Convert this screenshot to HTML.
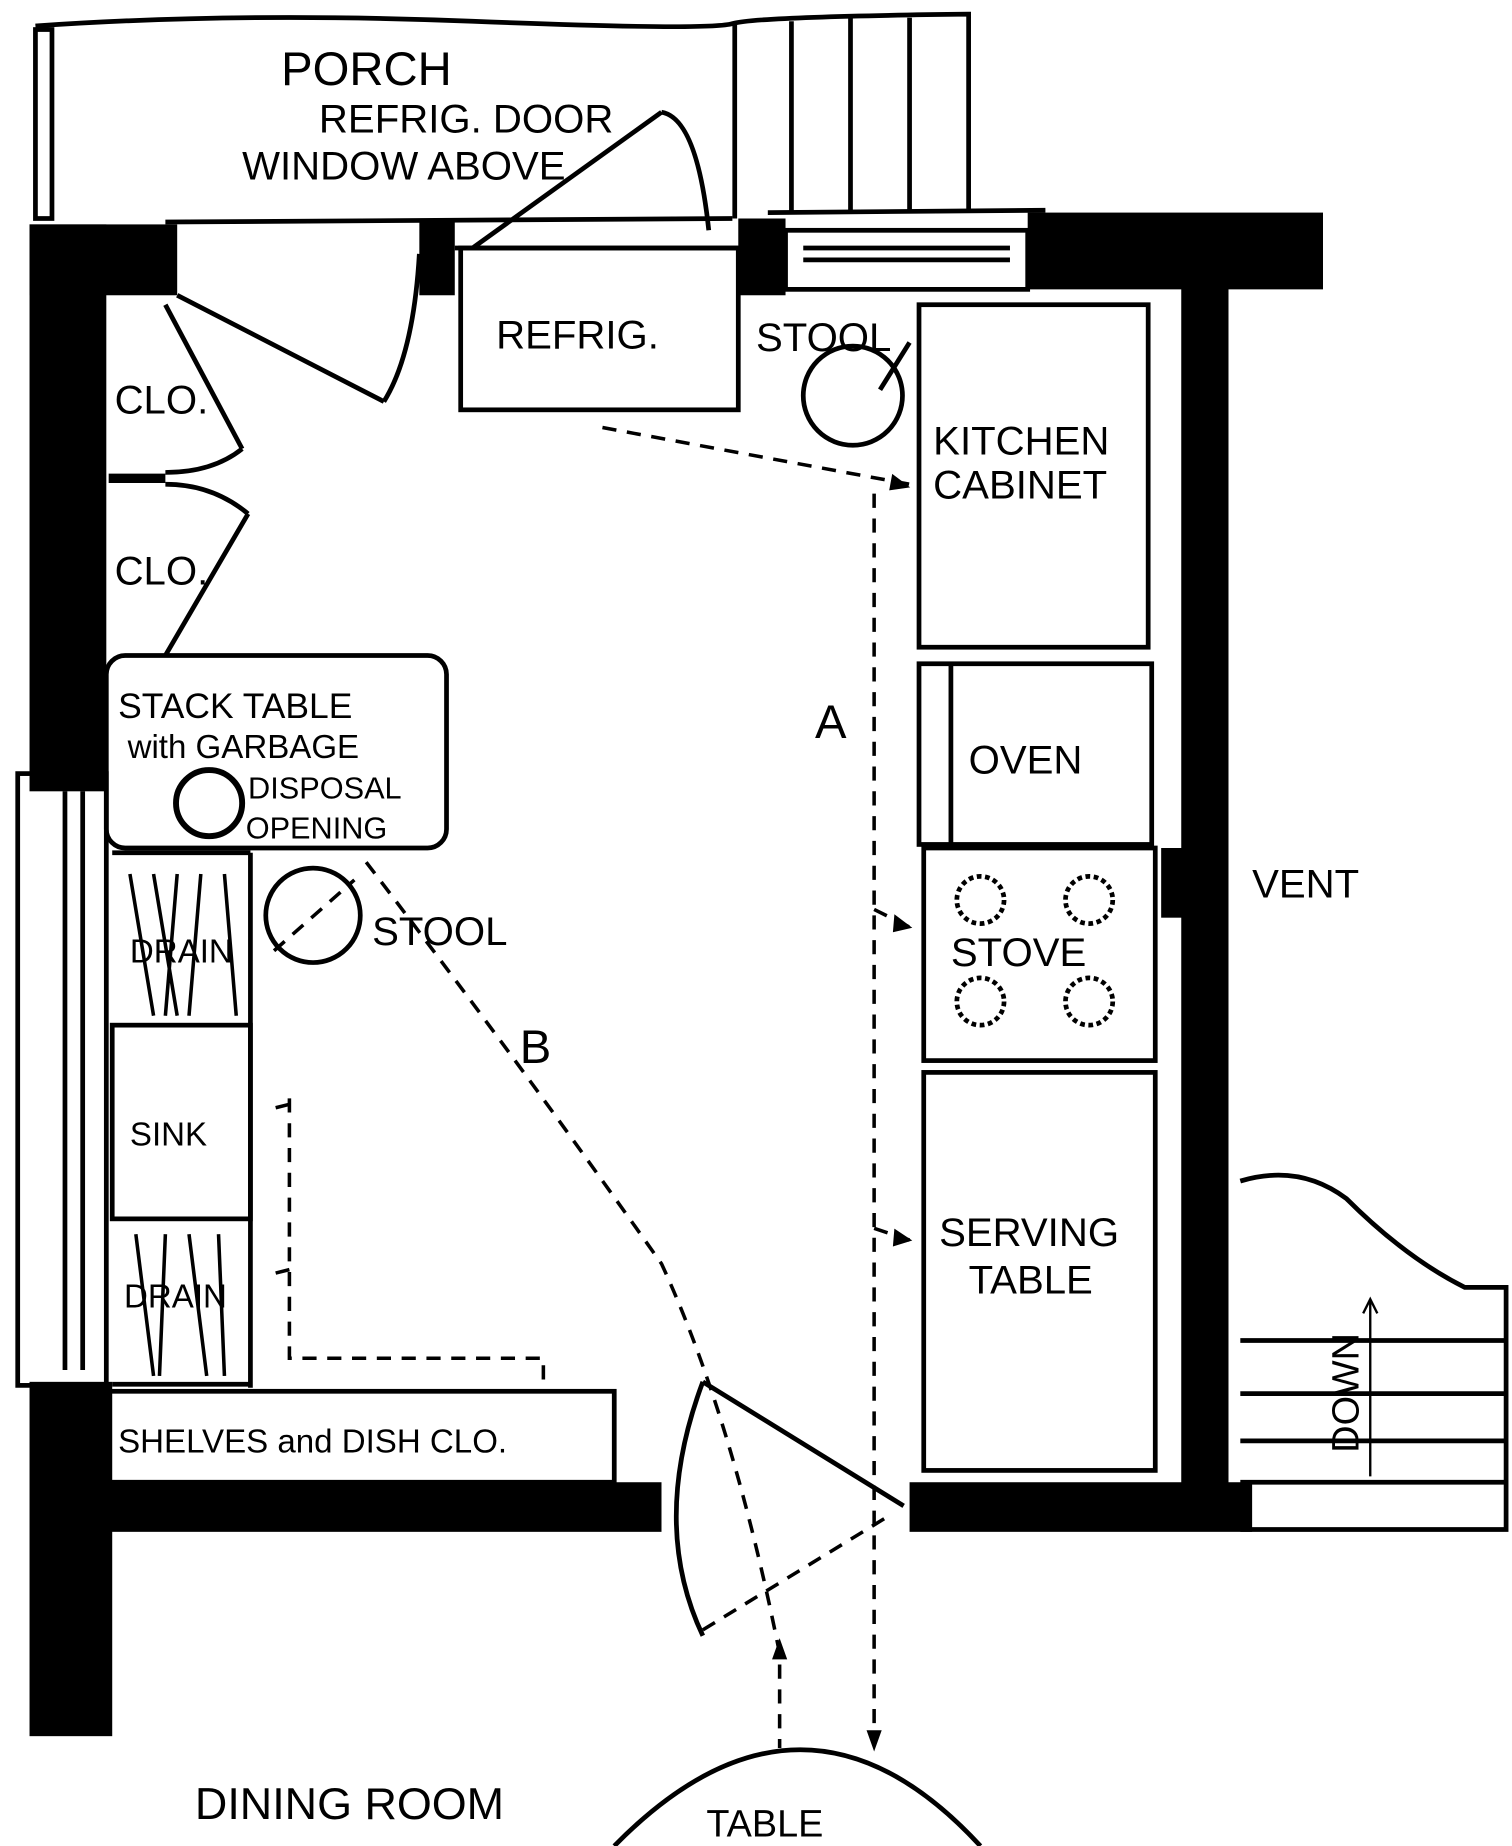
<!DOCTYPE html>
<html><head><meta charset="utf-8"><style>
html,body{margin:0;padding:0;background:#fff}
svg{display:block}
text{font-family:"Liberation Sans",sans-serif;fill:#000}
</style></head><body>
<svg width="1512" height="1846" viewBox="0 0 1280 1563" preserveAspectRatio="none" xmlns="http://www.w3.org/2000/svg">
<g stroke="#000" fill="none" stroke-width="4">
<path d="M30 22 Q200 10 400 18 T620 20 T820 12 L820 180"/>
<line x1="622" y1="20" x2="622" y2="185"/><line x1="670" y1="18" x2="670" y2="180"/><line x1="720" y1="15" x2="720" y2="180"/><line x1="770" y1="15" x2="770" y2="180"/>
<rect x="30" y="25" width="14" height="160"/>
<line x1="140" y1="188" x2="620" y2="185"/>
<line x1="385" y1="210" x2="625" y2="210"/>
<line x1="650" y1="180" x2="885" y2="178"/>
<rect x="665" y="195" width="205" height="50"/>
<line x1="680" y1="210" x2="855" y2="210"/><line x1="680" y1="220" x2="855" y2="220"/>
<rect x="390" y="210" width="235" height="137"/>
<line x1="400" y1="210" x2="560" y2="95"/>
<path d="M560 95 Q590 100 600 195"/>
<circle cx="722" cy="335" r="42"/>
<line x1="745" y1="330" x2="770" y2="290"/>
<rect x="778" y="258" width="194" height="290"/>
<rect x="778" y="562" width="197" height="153"/><line x1="805" y1="562" x2="805" y2="715"/>
<rect x="782" y="718" width="196" height="180"/>
<rect x="782" y="908" width="196" height="337"/>
<rect x="90" y="555" width="288" height="163" rx="16"/>
<circle cx="177" cy="680" r="28" stroke-width="5"/>
<line x1="95" y1="722" x2="212" y2="722"/><line x1="212" y1="722" x2="212" y2="1175"/>
<rect x="95" y="868" width="117" height="164"/>
<line x1="95" y1="1172" x2="212" y2="1172"/>
<path d="M110 740 L130 860 M130 740 L150 860 M150 740 L140 860 M170 740 L160 860 M190 740 L200 860 M115 1045 L130 1165 M140 1045 L135 1165 M160 1045 L175 1165 M185 1045 L190 1165" stroke-width="3"/>
<rect x="92" y="1178" width="428" height="77"/>
<circle cx="265" cy="775" r="40"/>
<rect x="15" y="655" width="75" height="518"/>
<line x1="55" y1="670" x2="55" y2="1160"/><line x1="70" y1="670" x2="70" y2="1160"/>
<line x1="150" y1="250" x2="325" y2="340"/><path d="M325 340 Q350 300 355 215"/>
<line x1="140" y1="258" x2="205" y2="380"/><path d="M205 380 Q180 400 140 400"/>
<line x1="140" y1="555" x2="210" y2="435"/><path d="M210 435 Q180 410 140 410"/>
<line x1="92" y1="405" x2="140" y2="405" stroke-width="8"/>
<line x1="595" y1="1170" x2="765" y2="1275"/>
<path d="M595 1170 Q550 1290 595 1385"/>
<path d="M520 1563 Q680 1400 830 1563"/>
<path d="M1050 1000 Q1100 985 1140 1015 Q1190 1065 1240 1090 L1275 1090 L1275 1295 L1050 1295"/>
<line x1="1050" y1="1135" x2="1275" y2="1135"/><line x1="1050" y1="1180" x2="1275" y2="1180"/><line x1="1050" y1="1220" x2="1275" y2="1220"/><line x1="1050" y1="1255" x2="1275" y2="1255"/>
<line x1="1160" y1="1100" x2="1160" y2="1250" stroke-width="2"/>
<path d="M1154 1112 L1160 1100 L1166 1112" stroke-width="2"/>
<rect x="985" y="720" width="40" height="55" fill="#000"/><rect x="1003" y="738" width="14" height="14" fill="#fff"/>
<g stroke-width="4"><circle cx="830" cy="762" r="20" stroke-dasharray="4 3"/><circle cx="922" cy="762" r="20" stroke-dasharray="4 3"/><circle cx="830" cy="848" r="20" stroke-dasharray="4 3"/><circle cx="922" cy="848" r="20" stroke-dasharray="4 3"/></g>
<g stroke-dasharray="12 9" stroke-width="3">
<path d="M510 362 L770 410"/>
<path d="M740 418 L740 1470"/>
<path d="M740 770 L770 785"/>
<path d="M740 1040 L770 1050"/>
<path d="M310 730 Q440 900 560 1070 Q620 1200 660 1400 L660 1480"/>
<path d="M595 1380 L750 1285"/>
<path d="M245 930 L245 1150 L460 1150 L460 1175"/>
<path d="M245 935 L225 940"/><path d="M245 1075 L225 1080"/>
<path d="M232 805 L300 745"/>
</g>
<g fill="#000" stroke-width="2">
<path d="M768 412 L756 403 L754 414 Z"/>
<path d="M770 785 L758 776 L757 788 Z"/>
<path d="M770 1050 L758 1042 L757 1054 Z"/>
<path d="M740 1480 L735 1466 L745 1466 Z"/>
<path d="M660 1390 L655 1404 L665 1404 Z"/>
</g>
</g>
<g fill="#000">
<rect x="25" y="190" width="65" height="480"/>
<rect x="25" y="190" width="125" height="60"/>
<rect x="355" y="185" width="30" height="65"/>
<rect x="625" y="185" width="40" height="65"/>
<rect x="870" y="180" width="250" height="65"/>
<rect x="1000" y="240" width="40" height="1030"/>
<rect x="770" y="1255" width="290" height="42"/>
<rect x="90" y="1255" width="470" height="42"/>
<rect x="25" y="1170" width="70" height="300"/>
</g>
<g font-size="34">
<text x="238" y="72" font-size="40">PORCH</text>
<text x="270" y="112">REFRIG. DOOR</text>
<text x="205" y="152">WINDOW ABOVE</text>
<text x="420" y="295">REFRIG.</text>
<text x="640" y="297">STOOL</text>
<text x="97" y="350">CLO.</text>
<text x="97" y="495">CLO.</text>
<text x="790" y="385">KITCHEN</text>
<text x="790" y="422">CABINET</text>
<text x="100" y="608" font-size="30">STACK TABLE</text>
<text x="108" y="642" font-size="28">with GARBAGE</text>
<text x="210" y="676" font-size="26">DISPOSAL</text>
<text x="208" y="710" font-size="26">OPENING</text>
<text x="820" y="655">OVEN</text>
<text x="690" y="625" font-size="40">A</text>
<text x="1060" y="760">VENT</text>
<text x="805" y="818">STOVE</text>
<text x="315" y="800">STOOL</text>
<text x="110" y="815" font-size="28">DRAIN</text>
<text x="110" y="970" font-size="28">SINK</text>
<text x="105" y="1107" font-size="28">DRAIN</text>
<text x="440" y="900" font-size="40">B</text>
<text x="795" y="1055">SERVING</text>
<text x="820" y="1095">TABLE</text>
<text x="100" y="1230" font-size="28">SHELVES and DISH CLO.</text>
<text x="165" y="1540" font-size="38">DINING ROOM</text>
<text x="598" y="1555" font-size="32">TABLE</text>
<text x="0" y="0" font-size="32" transform="translate(1150,1230) rotate(-90)">DOWN</text>
</g>
</svg>
</body></html>
